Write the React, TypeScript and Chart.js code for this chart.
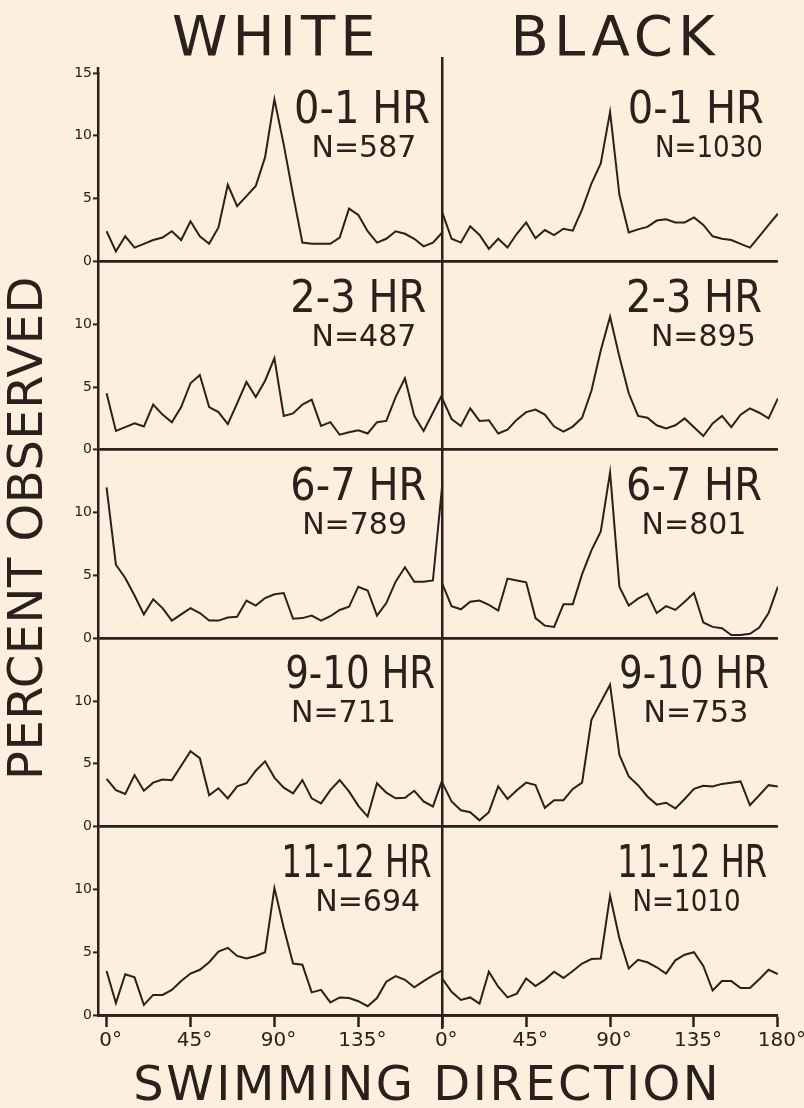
import React, { useEffect, useRef } from "react";
import { Chart, registerables } from "chart.js";

Chart.register(...registerables);

// ---------- data ----------
const DIRECTIONS = [0, 5, 10, 15, 20, 25, 30, 35, 40, 45, 50, 55, 60, 65, 70, 75, 80, 85, 90, 95, 100, 105, 110, 115, 120, 125, 130, 135, 140, 145, 150, 155, 160, 165, 170, 175, 180];

const PERIODS = ["0-1 HR", "2-3 HR", "6-7 HR", "9-10 HR", "11-12 HR"];
const WHITE_N = ["N=587", "N=487", "N=789", "N=711", "N=694"];
const BLACK_N = ["N=1030", "N=895", "N=801", "N=753", "N=1010"];
const GROUPS = ["WHITE", "BLACK"];

const X_TICK_VALUES = [0, 45, 90, 135, 180, 225, 270, 315, 360];
const X_TICK_LABELS = ["0°", "45°", "90°", "135°", "0°", "45°", "90°", "135°", "180°"];
const Y_TICKS_TOP = [0, 5, 10, 15];
const Y_TICKS = [0, 5, 10];

const WHITE_0_1 = [2.4, 0.8, 2.0, 1.1, 1.4, 1.7, 1.9, 2.4, 1.7, 3.2, 2.0, 1.4, 2.7, 6.1, 4.4, 5.2, 6.0, 8.3, 12.9, 9.3, 5.3, 1.5, 1.4, 1.4, 1.4, 1.9, 4.2, 3.7, 2.4, 1.5, 1.8, 2.4, 2.2, 1.8, 1.2, 1.5, 2.3];
const BLACK_0_1 = [3.9, 1.8, 1.5, 2.8, 2.1, 1.0, 1.8, 1.1, 2.2, 3.1, 1.85, 2.5, 2.1, 2.6, 2.45, 4.15, 6.2, 7.8, 11.9, 5.3, 2.3, 2.55, 2.75, 3.25, 3.35, 3.1, 3.1, 3.5, 2.9, 2.0, 1.8, 1.7, 1.4, 1.1, 2.0, 2.9, 3.8];
const WHITE_2_3 = [4.5, 1.5, 1.8, 2.1, 1.85, 3.6, 2.8, 2.2, 3.4, 5.3, 5.95, 3.4, 3.0, 2.05, 3.7, 5.4, 4.2, 5.5, 7.3, 2.7, 2.9, 3.6, 4.0, 1.9, 2.2, 1.2, 1.4, 1.55, 1.3, 2.2, 2.3, 4.2, 5.7, 2.7, 1.5, 2.95, 4.4];
const BLACK_2_3 = [4.1, 2.45, 1.9, 3.3, 2.3, 2.35, 1.3, 1.6, 2.4, 3.0, 3.2, 2.8, 1.85, 1.45, 1.85, 2.55, 4.7, 7.9, 10.6, 7.4, 4.5, 2.7, 2.55, 1.95, 1.7, 1.95, 2.5, 1.8, 1.1, 2.1, 2.7, 1.8, 2.8, 3.3, 2.95, 2.5, 4.1];
const WHITE_6_7 = [12.0, 5.85, 4.8, 3.4, 1.9, 3.1, 2.4, 1.4, 1.9, 2.4, 2.0, 1.4, 1.4, 1.65, 1.7, 3.0, 2.6, 3.2, 3.5, 3.6, 1.55, 1.6, 1.8, 1.4, 1.75, 2.25, 2.5, 4.1, 3.8, 1.8, 2.8, 4.5, 5.65, 4.5, 4.5, 4.6, 12.2];
const BLACK_6_7 = [4.35, 2.55, 2.3, 2.9, 3.0, 2.65, 2.2, 4.75, 4.6, 4.45, 1.6, 1.0, 0.9, 2.7, 2.7, 5.1, 7.0, 8.5, 13.2, 4.1, 2.6, 3.15, 3.55, 2.0, 2.55, 2.25, 2.9, 3.6, 1.25, 0.9, 0.8, 0.25, 0.25, 0.35, 0.85, 2.0, 4.1];
const WHITE_9_10 = [3.8, 2.9, 2.6, 4.1, 2.85, 3.5, 3.75, 3.7, 4.85, 6.0, 5.45, 2.5, 3.05, 2.25, 3.2, 3.45, 4.45, 5.2, 3.9, 3.1, 2.65, 3.7, 2.25, 1.85, 2.9, 3.7, 2.8, 1.65, 0.8, 3.45, 2.7, 2.25, 2.3, 2.85, 2.0, 1.6, 3.7];
const BLACK_9_10 = [3.5, 2.0, 1.3, 1.15, 0.5, 1.15, 3.2, 2.2, 2.9, 3.5, 3.3, 1.5, 2.1, 2.1, 3.0, 3.5, 8.5, 9.9, 11.3, 5.7, 4.0, 3.3, 2.4, 1.75, 1.9, 1.45, 2.2, 3.0, 3.25, 3.2, 3.4, 3.5, 3.6, 1.7, 2.5, 3.3, 3.2];
const WHITE_11_12 = [3.5, 0.95, 3.25, 3.0, 0.8, 1.6, 1.6, 2.0, 2.7, 3.3, 3.6, 4.2, 5.05, 5.35, 4.7, 4.5, 4.7, 5.0, 10.1, 6.95, 4.1, 4.0, 1.8, 2.0, 1.0, 1.4, 1.35, 1.1, 0.7, 1.35, 2.65, 3.1, 2.8, 2.2, 2.7, 3.15, 3.55];
const BLACK_11_12 = [2.9, 1.85, 1.2, 1.4, 0.9, 3.45, 2.25, 1.4, 1.7, 2.9, 2.3, 2.8, 3.45, 2.95, 3.5, 4.1, 4.45, 4.5, 9.5, 6.1, 3.7, 4.4, 4.2, 3.8, 3.3, 4.35, 4.8, 5.0, 3.9, 1.95, 2.7, 2.7, 2.15, 2.15, 2.85, 3.6, 3.25];

const WHITE_SERIES = [WHITE_0_1, WHITE_2_3, WHITE_6_7, WHITE_9_10, WHITE_11_12];
const BLACK_SERIES = [BLACK_0_1, BLACK_2_3, BLACK_6_7, BLACK_9_10, BLACK_11_12];

// ---------- style / layout ----------
const INK = "#2b201b";
const PAPER = "#fbefdd";
const FONT = "'DejaVu Sans', 'Liberation Sans', sans-serif";
const WIDTH = 804;
const HEIGHT = 1108;

// label anchor positions in (degree, percent) units of each panel
const BIG_LABEL_X_WHITE = [137, 135, 135, 136, 134];
const BIG_LABEL_X_BLACK = [316, 315, 315, 315, 314];
const N_LABEL_X_WHITE = [138, 138, 133, 127, 140];
const N_LABEL_X_BLACK = [323, 320, 315, 316, 311];
const BIG_LABEL_Y = 11.0;
const N_LABEL_Y = 8.3;

const textPlugin = {
  id: "panelText",
  afterDraw(chart: any) {
    const ctx: CanvasRenderingContext2D = chart.ctx;
    const xs = chart.scales.x;
    const area = chart.chartArea;
    ctx.save();

    // divider between WHITE and BLACK panels
    const xd = xs.getPixelForValue(180);
    ctx.strokeStyle = INK;
    ctx.lineWidth = 2.5;
    ctx.beginPath();
    ctx.moveTo(xd, area.top - 16);
    ctx.lineTo(xd, area.bottom + 14);
    ctx.stroke();
    // left axis extension above top tick
    ctx.beginPath();
    ctx.moveTo(area.left, area.top - 6);
    ctx.lineTo(area.left, area.top);
    ctx.stroke();

    ctx.fillStyle = INK;
    ctx.textBaseline = "alphabetic";
    ctx.textAlign = "center";

    // group headers
    (ctx as any).letterSpacing = "5px";
    ctx.font = `56px ${FONT}`;
    ctx.fillText(GROUPS[0], xs.getPixelForValue(90) + 2, area.top - 18);
    ctx.fillText(GROUPS[1], xs.getPixelForValue(270) + 5, area.top - 18);

    // panel labels
    (ctx as any).letterSpacing = "0px";
    for (let r = 0; r < PERIODS.length; r++) {
      const ys = chart.scales[`y${r}`];
      const bigY = ys.getPixelForValue(BIG_LABEL_Y);
      const nY = ys.getPixelForValue(N_LABEL_Y);
      const bigMax = PERIODS[r].length > 6 ? 150 : 136;
      ctx.font = `44px ${FONT}`;
      ctx.fillText(PERIODS[r], xs.getPixelForValue(BIG_LABEL_X_WHITE[r]), bigY, bigMax);
      ctx.fillText(PERIODS[r], xs.getPixelForValue(BIG_LABEL_X_BLACK[r]), bigY, bigMax);
      ctx.font = `30px ${FONT}`;
      ctx.fillText(WHITE_N[r], xs.getPixelForValue(N_LABEL_X_WHITE[r]), nY, 108);
      ctx.fillText(BLACK_N[r], xs.getPixelForValue(N_LABEL_X_BLACK[r]), nY, 108);
    }

    // x axis title
    (ctx as any).letterSpacing = "2.5px";
    ctx.font = `48px ${FONT}`;
    ctx.fillText("SWIMMING DIRECTION", xs.getPixelForValue(172), area.bottom + 85);

    // y axis title (rotated)
    (ctx as any).letterSpacing = "0.5px";
    ctx.translate(42, (area.top + area.bottom) / 2 - 16);
    ctx.rotate(-Math.PI / 2);
    ctx.font = `48px ${FONT}`;
    ctx.fillText("PERCENT OBSERVED", 0, 0);

    ctx.restore();
  },
};

function makeYAxis(r: number) {
  const top = r === 0;
  return {
    type: "linear",
    position: "left",
    stack: "rows",
    stackWeight: 1,
    min: 0,
    max: 15,
    afterBuildTicks: (s: any) => {
      s.ticks = (top ? Y_TICKS_TOP : Y_TICKS).map((v) => ({ value: v }));
    },
    afterFit: (s: any) => {
      s.width = 40;
    },
    ticks: {
      color: INK,
      font: { family: FONT, size: 14 },
      padding: 1,
      callback: (v: any) => String(v),
    },
    grid: {
      drawOnChartArea: true,
      color: (c: any) => (c.tick && c.tick.value === 0 ? INK : "rgba(0,0,0,0)"),
      lineWidth: 2.8,
      tickColor: INK,
      tickLength: 5,
      tickWidth: 2,
    },
    border: { display: true, color: INK, width: 2.5 },
  };
}

export default function App() {
  const ref = useRef<HTMLCanvasElement>(null);

  useEffect(() => {
    document.body.style.margin = "0";
    document.body.style.background = PAPER;
    const canvas = ref.current;
    if (!canvas) return;

    const datasets: any[] = [];
    for (let r = 0; r < PERIODS.length; r++) {
      datasets.push({
        label: `${GROUPS[0]} ${PERIODS[r]}`,
        data: DIRECTIONS.map((d, i) => ({ x: d, y: WHITE_SERIES[r][i] })),
        yAxisID: `y${r}`,
        borderColor: INK,
        borderWidth: 2,
        pointRadius: 0,
        tension: 0,
        fill: false,
      });
      datasets.push({
        label: `${GROUPS[1]} ${PERIODS[r]}`,
        data: DIRECTIONS.map((d, i) => ({ x: 180 + d, y: BLACK_SERIES[r][i] })),
        yAxisID: `y${r}`,
        borderColor: INK,
        borderWidth: 2,
        pointRadius: 0,
        tension: 0,
        fill: false,
      });
    }

    const scales: any = {
      x: {
        type: "linear",
        min: -4.6,
        max: 360,
        afterBuildTicks: (s: any) => {
          s.ticks = X_TICK_VALUES.map((v) => ({ value: v }));
        },
        afterFit: (s: any) => {
          s.height = 50;
        },
        ticks: {
          color: INK,
          font: { family: FONT, size: 20 },
          maxRotation: 0,
          autoSkip: false,
          padding: 2,
          labelOffset: 4,
          callback: (_v: any, i: number) => X_TICK_LABELS[i],
        },
        grid: {
          drawOnChartArea: false,
          color: INK,
          tickColor: INK,
          tickLength: 12,
          tickWidth: 2.5,
        },
        border: { display: true, color: INK, width: 2.8 },
      },
    };
    for (let r = PERIODS.length - 1; r >= 0; r--) {
      scales[`y${r}`] = makeYAxis(r);
    }

    const chart = new Chart(canvas, {
      type: "line",
      data: { datasets },
      options: {
        responsive: false,
        animation: false,
        devicePixelRatio: 1,
        layout: { padding: { left: 58, top: 73, right: 24, bottom: 43 } },
        plugins: { legend: { display: false }, tooltip: { enabled: false }, title: { display: false } },
        scales,
      },
      plugins: [textPlugin],
    } as any);

    return () => chart.destroy();
  }, []);

  return (
    <div style={{ width: WIDTH, height: HEIGHT, background: PAPER }}>
      <canvas ref={ref} width={WIDTH} height={HEIGHT} style={{ display: "block" }} />
    </div>
  );
}
